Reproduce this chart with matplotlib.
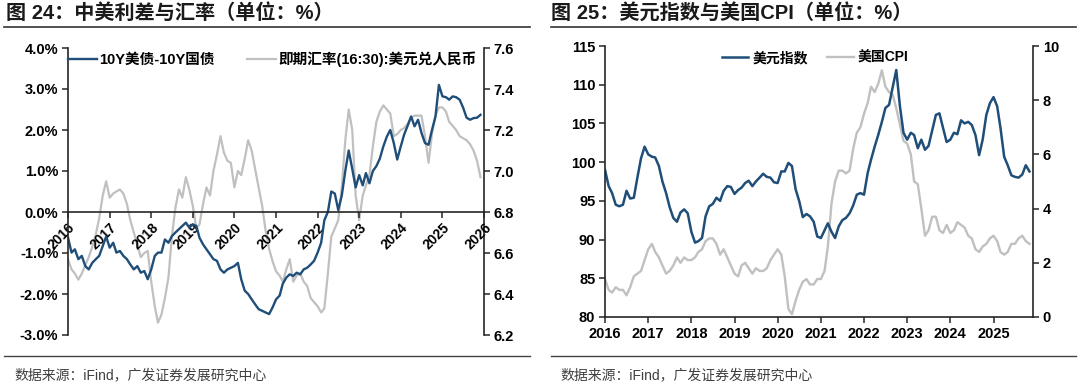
import numpy as np
import pandas as pd
import matplotlib
matplotlib.use('Agg')
from matplotlib import pyplot as plt
from matplotlib.lines import Line2D
from matplotlib.ticker import FuncFormatter
import matplotlib.dates as mdates

plt.rcParams['font.family'] = ['Liberation Sans', 'Noto Sans CJK SC', 'DejaVu Sans']
plt.rcParams['axes.unicode_minus'] = False

# ---- left chart: 10Y UST - 10Y CGB spread (%) and USD/CNY spot, monthly from 2016-01
spread = [-0.62, -0.99, -0.91, -1.15, -1.07, -1.32, -1.40, -1.24, -1.15, -1.07,
          -0.83, -0.60, -0.87, -0.75, -0.99, -0.95, -1.07, -1.15, -1.28, -1.40,
          -1.32, -1.48, -1.44, -1.64, -1.40, -1.07, -0.99, -0.99, -0.67, -0.75,
          -0.59, -0.50, -0.42, -0.34, -0.26, -0.38, -0.30, -0.34, -0.63, -0.79,
          -0.91, -1.03, -1.15, -1.19, -1.40, -1.48, -1.40, -1.36, -1.32, -1.24,
          -1.64, -1.92, -2.00, -2.13, -2.25, -2.37, -2.41, -2.45, -2.49, -2.33,
          -2.13, -2.04, -1.75, -1.60, -1.52, -1.56, -1.48, -1.52, -1.40, -1.36,
          -1.28, -1.19, -0.99, -0.75, -0.20, 0.00, 0.50, 0.45, 0.05, 0.40,
          1.00, 1.50, 1.05, 0.60, 0.90, 0.65, 0.95, 0.70, 1.00, 1.12,
          1.30, 1.60, 1.84, 2.00, 1.68, 1.28, 1.60, 1.90, 2.10, 2.33,
          2.09, 2.25, 1.93, 1.68, 1.64, 2.00, 2.33, 3.10, 2.82, 2.80,
          2.74, 2.82, 2.80, 2.74, 2.55, 2.30, 2.25, 2.29, 2.30, 2.37]
usdcny = [6.57, 6.52, 6.50, 6.47, 6.50, 6.54, 6.58, 6.63, 6.69, 6.77,
          6.88, 6.95, 6.87, 6.89, 6.90, 6.91, 6.89, 6.84, 6.76, 6.70,
          6.64, 6.58, 6.60, 6.61, 6.46, 6.34, 6.26, 6.30, 6.38, 6.48,
          6.68, 6.82, 6.91, 6.87, 6.97, 6.91, 6.83, 6.72, 6.74, 6.84,
          6.92, 6.88, 7.00, 7.08, 7.17, 7.09, 7.05, 7.04, 6.92, 7.00,
          6.98, 7.06, 7.15, 7.10, 7.01, 6.92, 6.83, 6.71, 6.62, 6.56,
          6.51, 6.49, 6.46, 6.52, 6.57, 6.46, 6.49, 6.50, 6.46, 6.44,
          6.38, 6.36, 6.34, 6.31, 6.33, 6.50, 6.68, 6.72, 6.76, 6.92,
          7.15, 7.30, 7.20, 6.88, 6.76, 6.88, 6.93, 6.98, 7.12, 7.24,
          7.29, 7.32, 7.30, 7.28, 7.17, 7.18, 7.20, 7.21, 7.23, 7.26,
          7.27, 7.27, 7.27, 7.17, 7.04, 7.18, 7.27, 7.31, 7.31, 7.29,
          7.24, 7.22, 7.20, 7.17, 7.16, 7.15, 7.13, 7.10, 7.05, 6.97]
left_dates = pd.date_range('2016-01-01', periods=len(spread), freq='MS')
left_yticks = [-3, -2, -1, 0, 1, 2, 3, 4]
left_rticks = [6.2, 6.4, 6.6, 6.8, 7.0, 7.2, 7.4, 7.6]
left_years = list(range(2016, 2027))

# ---- right chart: US dollar index and US CPI yoy (%), monthly from 2016-01
dxy = [99.0, 96.9, 96.0, 94.5, 94.3, 94.5, 96.3, 95.3, 95.4, 98.0,
       100.5, 102.0, 101.0, 100.7, 100.6, 99.5, 97.5, 96.0, 94.2, 92.8,
       92.3, 93.5, 93.9, 93.4, 91.0, 89.6, 89.8, 90.2, 93.0, 94.3,
       94.6, 95.4, 95.0, 96.3, 96.9, 96.8, 95.9, 96.4, 96.7, 97.3,
       97.6, 96.9, 97.5, 98.0, 98.5, 98.1, 98.0, 97.4, 97.3, 98.8,
       98.8, 99.9, 99.5, 96.5, 95.0, 92.9, 93.3, 93.0, 92.3, 90.4,
       90.2, 91.2, 92.1, 91.0, 90.2, 91.7, 92.5, 92.8, 93.4, 94.4,
       95.8, 96.0, 95.8, 98.6, 100.3, 102.0, 103.5, 105.2, 107.0, 107.4,
       109.7, 111.9, 107.2, 103.8, 102.9, 103.8, 103.5, 101.8, 102.9, 101.6,
       102.1, 104.1, 106.1, 106.3, 104.4, 102.6, 102.9, 103.8, 103.6, 105.4,
       105.0, 105.2, 104.8, 103.5, 100.9, 102.9, 106.1, 107.6, 108.4, 107.2,
       104.4, 100.7, 99.6, 98.3, 98.1, 98.0, 98.4, 99.6, 98.8]
us_cpi = [1.4, 1.0, 0.9, 1.1, 1.0, 1.0, 0.8, 1.1, 1.5, 1.6,
          1.7, 2.1, 2.5, 2.7, 2.4, 2.2, 1.9, 1.6, 1.7, 1.9,
          2.2, 2.0, 2.2, 2.1, 2.1, 2.2, 2.4, 2.5, 2.8, 2.9,
          2.9, 2.7, 2.3, 2.5, 2.2, 1.9, 1.6, 1.5, 1.9, 2.0,
          1.8, 1.6, 1.8, 1.7, 1.7, 1.8, 2.1, 2.3, 2.5, 2.3,
          1.5, 0.3, 0.1, 0.6, 1.0, 1.3, 1.4, 1.2, 1.2, 1.4,
          1.4, 1.7, 2.6, 4.2, 5.0, 5.4, 5.4, 5.3, 5.4, 6.2,
          6.8, 7.0, 7.5, 7.9, 8.5, 8.3, 8.6, 9.1, 8.5, 8.3,
          8.2, 7.7, 7.1, 6.5, 6.4, 6.0, 5.0, 4.9, 4.0, 3.0,
          3.2, 3.7, 3.7, 3.2, 3.1, 3.4, 3.1, 3.2, 3.5, 3.4,
          3.3, 3.0, 2.9, 2.5, 2.4, 2.6, 2.7, 2.9, 3.0, 2.8,
          2.4, 2.3, 2.4, 2.7, 2.7, 2.9, 3.0, 2.8, 2.7]
right_dates = pd.date_range('2016-01-01', periods=len(dxy), freq='MS')
right_yticks = [80, 85, 90, 95, 100, 105, 110, 115]
right_rticks = [0, 2, 4, 6, 8, 10]
right_years = list(range(2016, 2026))

BLUE = '#1f4e79'
GRAY = '#c0c0c0'
SPINE = '#262626'
W, H = 1080, 387


def fx(px):
    return px / W


def fy(py):
    return 1 - py / H


def style_axis(ax):
    ax.tick_params(axis='both', labelsize=10.5, width=1.1, length=4, color=SPINE, pad=3)
    for t in ax.get_yticklabels() + ax.get_xticklabels():
        t.set_fontweight('bold')
    for s in ax.spines.values():
        s.set_color(SPINE)
        s.set_linewidth(1.2)


fig = plt.figure(figsize=(10.8, 3.87), dpi=100)

# ---------------- left chart ----------------
ax = fig.add_axes([fx(68), fy(335), fx(484 - 68), (335 - 48) / H])
ax2 = ax.twinx()
ax.set_zorder(ax2.get_zorder() + 1)
ax.patch.set_visible(False)

l1, = ax.plot(left_dates, spread, color=BLUE, lw=1.7, label='10Y美债-10Y国债')
l2, = ax2.plot(left_dates, usdcny, color=GRAY, lw=1.6, label='即期汇率(16:30):美元兑人民币')

ax.set_xlim(pd.Timestamp('2016-01-01'), pd.Timestamp('2026-01-01'))
ax.set_ylim(-3, 4)
ax2.set_ylim(6.2, 7.6)
ax.set_yticks(left_yticks)
ax.yaxis.set_major_formatter(FuncFormatter(lambda v, p: f'{v:.1f}%'))
ax2.set_yticks(left_rticks)
ax2.yaxis.set_major_formatter(FuncFormatter(lambda v, p: f'{v:.1f}'))
ax.set_xticks([pd.Timestamp(f'{y}-01-01') for y in left_years])
ax.xaxis.set_major_formatter(mdates.DateFormatter('%Y'))

ax.spines['top'].set_visible(False)
ax.spines['right'].set_visible(False)
ax.spines['bottom'].set_position(('data', 0))
for side in ['top', 'left', 'bottom']:
    ax2.spines[side].set_visible(False)
style_axis(ax)
style_axis(ax2)
ax.tick_params(axis='x', labelsize=10, pad=2)
for t in ax.get_xticklabels():
    t.set_rotation(45)
    t.set_ha('right')
    t.set_va('top')
    t.set_rotation_mode('anchor')

ax.legend(handles=[l1, l2], loc='center left', bbox_to_anchor=(0, 0.962), ncol=2,
          frameon=False, borderaxespad=0, borderpad=0, handlelength=2.0,
          handletextpad=0.15, columnspacing=2.2,
          prop={'size': 10.5, 'weight': 'bold'})

# ---------------- right chart ----------------
bx = fig.add_axes([fx(605), fy(317), fx(1033 - 605), (317 - 46) / H])
bx2 = bx.twinx()
bx.set_zorder(bx2.get_zorder() + 1)
bx.patch.set_visible(False)

m1, = bx.plot(right_dates, dxy, color=BLUE, lw=1.8, label='美元指数')
m2, = bx2.plot(right_dates, us_cpi, color=GRAY, lw=1.7, label='美国CPI')

bx.set_xlim(pd.Timestamp('2016-01-01'), pd.Timestamp('2025-12-01'))
bx.set_ylim(80, 115)
bx2.set_ylim(0, 10)
bx.set_yticks(right_yticks)
bx2.set_yticks(right_rticks)
bx.set_xticks([pd.Timestamp(f'{y}-01-01') for y in right_years])
bx.xaxis.set_major_formatter(mdates.DateFormatter('%Y'))
bx.spines['top'].set_visible(False)
bx.spines['right'].set_visible(False)
for side in ['top', 'left', 'bottom']:
    bx2.spines[side].set_visible(False)
style_axis(bx)
style_axis(bx2)

bx.legend(handles=[m1, m2], loc='center left', bbox_to_anchor=(0.273, 0.956), ncol=2,
          frameon=False, borderaxespad=0, borderpad=0, handlelength=1.9,
          handletextpad=0.3, columnspacing=1.4,
          prop={'size': 10, 'weight': 'bold'})

# ---------------- titles, rules, sources ----------------
title_font = dict(fontsize=14.5, fontweight='bold', color='#1a1a1a', va='center', ha='left')
fig.text(fx(6), fy(13), '图 24：中美利差与汇率（单位：%）', **title_font)
fig.text(fx(551), fy(13), '图 25：美元指数与美国CPI（单位：%）', **title_font)

for x0, x1 in [(4, 530), (551, 1076)]:
    fig.add_artist(Line2D([fx(x0), fx(x1)], [fy(27), fy(27)], color='#333333', lw=1.2))
    fig.add_artist(Line2D([fx(x0), fx(x1)], [fy(356), fy(356)], color='#444444', lw=1.0))

src_font = dict(fontsize=10, color='#404040', va='center', ha='left')
fig.text(fx(14), fy(375), '数据来源：iFind，广发证券发展研究中心', **src_font)
fig.text(fx(560), fy(375), '数据来源：iFind，广发证券发展研究中心', **src_font)

fig.savefig('out.png', dpi=100)
